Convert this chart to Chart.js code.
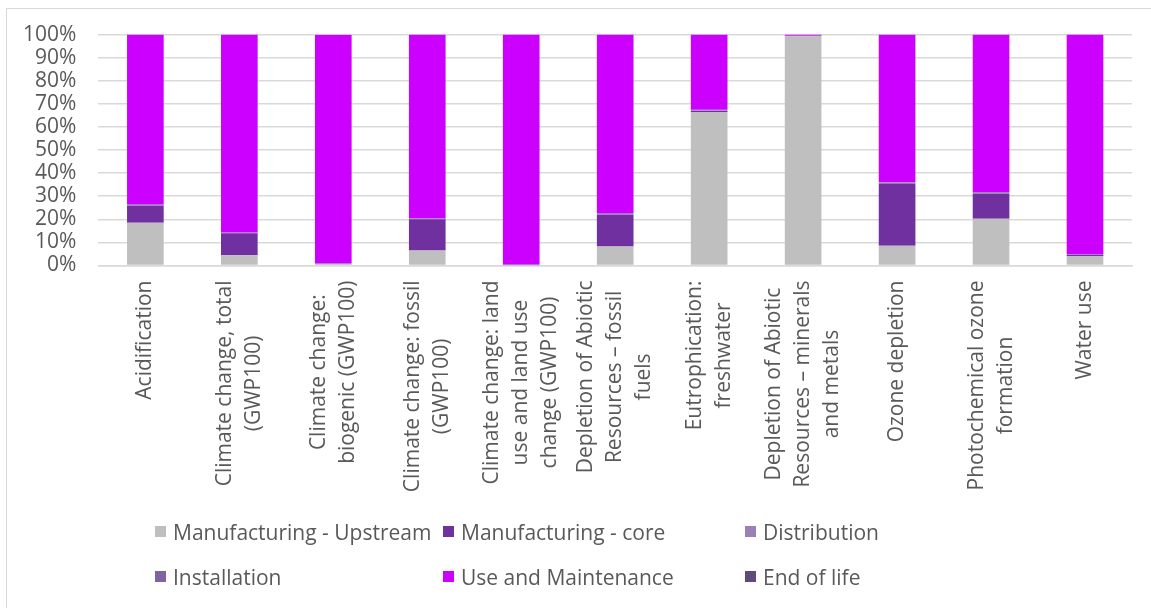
<!DOCTYPE html>
<html>
<head>
<meta charset="utf-8">
<script src="https://cdn.jsdelivr.net/npm/chart.js@4"></script>
<style>
  html, body { margin: 0; padding: 0; background: #fff; }
  body { width: 1151px; height: 608px; overflow: hidden; position: relative; font-family: "Open Sans", sans-serif; }
  #frame { position: absolute; left: 6px; top: 8px; width: 1200px; height: 700px; border-left: 1px solid #D9D9D9; border-top: 1px solid #D9D9D9; }
  #wrap { position: absolute; left: 0; top: 0; width: 1151px; height: 608px; }
  #legend { position: absolute; left: 155px; top: 509px; display: grid; grid-template-columns: 288px 302px auto; grid-auto-rows: 45px; color: #595959; font-size: 21px; }
  .item { display: flex; align-items: center; white-space: nowrap; }
  .box { width: 11px; height: 11px; margin-right: 7px; flex: none; }
</style>
</head>
<body>
<div id="frame"></div>
<div id="wrap"><canvas id="chart" width="1151" height="608"></canvas></div>
<div id="legend"></div>
<script>
// impact categories, one array of lines per label
const categories = [
  ["Acidification"],
  ["Climate change, total", "(GWP100)"],
  ["Climate change:", "biogenic (GWP100)"],
  ["Climate change: fossil", "(GWP100)"],
  ["Climate change: land", "use and land use", "change (GWP100)"],
  ["Depletion of Abiotic", "Resources – fossil", "fuels"],
  ["Eutrophication:", "freshwater"],
  ["Depletion of Abiotic", "Resources – minerals", "and metals"],
  ["Ozone depletion"],
  ["Photochemical ozone", "formation"],
  ["Water use"]
];

// share of each life cycle stage, %
const upstream     = [18.5, 4.4, 0.5, 6.5, 0.1, 8.2, 66.5, 99.3, 8.5, 20.2, 4.1];
const core         = [7.4, 9.6, 0.3, 13.5, 0.1, 13.8, 0.4, 0.1, 27.0, 10.9, 0.6];
const distribution = [0.3, 0.2, 0.1, 0.3, 0.05, 0.3, 0.3, 0.05, 0.4, 0.4, 0.1];
const installation = [0.2, 0.1, 0.05, 0.2, 0.05, 0.2, 0.3, 0.05, 0.3, 0.3, 0.1];
const useMaint     = [73.5, 85.6, 99.0, 79.4, 99.7, 77.4, 32.4, 0.5, 63.7, 68.1, 95.1];
const endOfLife    = [0.1, 0.1, 0.0, 0.1, 0.0, 0.1, 0.1, 0.0, 0.1, 0.1, 0.0];

const stageNames = ["Manufacturing - Upstream", "Manufacturing - core", "Distribution",
                    "Installation", "Use and Maintenance", "End of life"];
const stageColors = ["#BFBFBF", "#7030A0", "#9A80B4", "#8064A2", "#CC00FF", "#604A7B"];
const stageData = [upstream, core, distribution, installation, useMaint, endOfLife];

const yTicks = [0, 10, 20, 30, 40, 50, 60, 70, 80, 90, 100];

const textColor = "#595959";
const gridColor = "#D9D9D9";
const fontFamily = '"Open Sans", sans-serif';
const lineH = 29;

// x labels: Chart.js lays them out, we paint them with centred lines
const centredLabels = {
  id: "centredLabels",
  afterDraw(chart) {
    const scale = chart.scales.x;
    const ctx = chart.ctx;
    ctx.save();
    ctx.font = "21px " + fontFamily;
    ctx.fillStyle = textColor;
    ctx.textAlign = "center";
    ctx.textBaseline = "middle";
    categories.forEach((lines, i) => {
      const x = scale.getPixelForTick(i);
      const top = scale.top + 15;
      const w = Math.max(...lines.map(l => ctx.measureText(l).width));
      ctx.save();
      ctx.translate(x, top);
      ctx.rotate(-Math.PI / 2);
      lines.forEach((l, j) => {
        ctx.fillText(l, -w / 2, (j - (lines.length - 1) / 2) * lineH);
      });
      ctx.restore();
    });
    ctx.restore();
  }
};

const ctx = document.getElementById("chart").getContext("2d");
new Chart(ctx, {
  type: "bar",
  data: {
    labels: categories,
    datasets: stageNames.map((name, i) => ({
      label: name,
      data: stageData[i],
      backgroundColor: stageColors[i],
      borderWidth: 0,
      categoryPercentage: 1,
      barPercentage: 0.39
    }))
  },
  options: {
    responsive: false,
    animation: false,
    layout: { padding: { left: 1, right: 19, top: 31, bottom: 108 } },
    plugins: { legend: { display: false }, tooltip: { enabled: false } },
    scales: {
      x: {
        stacked: true,
        grid: { display: false },
        border: { color: gridColor, width: 1.5 },
        ticks: {
          color: "transparent",
          font: { family: fontFamily, size: 21, lineHeight: lineH / 21 },
          minRotation: 90, maxRotation: 90, padding: 15, autoSkip: false
        }
      },
      y: {
        stacked: true,
        min: 0, max: 100,
        afterBuildTicks: (axis) => { axis.ticks = yTicks.map(v => ({ value: v })); },
        grid: { color: gridColor, lineWidth: 1.5, drawTicks: false },
        border: { display: false },
        ticks: {
          color: textColor,
          font: { family: fontFamily, size: 21 },
          padding: 22,
          autoSkip: false,
          callback: (v) => v + "%"
        }
      }
    }
  },
  plugins: [centredLabels]
});

// legend, three columns as in the workbook
const legend = document.getElementById("legend");
stageNames.forEach((name, i) => {
  const item = document.createElement("div");
  item.className = "item";
  const box = document.createElement("span");
  box.className = "box";
  box.style.background = stageColors[i];
  item.appendChild(box);
  item.appendChild(document.createTextNode(name));
  legend.appendChild(item);
});
</script>
</body>
</html>
